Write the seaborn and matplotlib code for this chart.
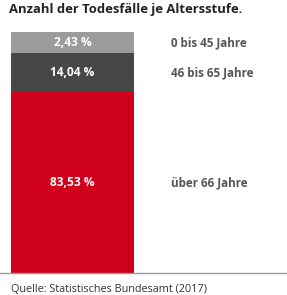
import numpy as np
import pandas as pd
import matplotlib
matplotlib.use("Agg")
import matplotlib.pyplot as plt
import seaborn as sns

# Data
groups = ["0 bis 45 Jahre", "46 bis 65 Jahre", "über 66 Jahre"]
shares = [2.43, 14.04, 83.53]                 # printed values (%)
segment_heights = [8.7, 16.2, 75.1]           # segment heights as drawn in the picture
colors = ["#9b9b9b", "#474747", "#d0021b"]
title = "Anzahl der Todesfälle je Altersstufe."
source = "Quelle: Statistisches Bundesamt (2017)"

sns.set_theme(style="white")
plt.rcParams["font.family"] = ["Open Sans", "DejaVu Sans"]

W, H = 287, 295
fig = plt.figure(figsize=(W / 100, H / 100), dpi=100)
ax = fig.add_axes([0, (H - 273) / H, 1, 241 / H])

order = [2, 1, 0]
cum = np.cumsum([segment_heights[i] for i in order])
tops = {i: c for i, c in zip(order, cum)}
bottoms = {i: c - segment_heights[i] for i, c in zip(order, cum)}

for i in order:
    df = pd.DataFrame({"k": ["x"], "v": [segment_heights[i]]})
    sns.barplot(data=df, x="k", y="v", color=colors[i], saturation=1,
                width=1.0, ax=ax, linewidth=0, edgecolor=colors[i],
                bottom=bottoms[i], errorbar=None, antialiased=False)

ax.set_xlim(-0.5 - 11 / 123, -0.5 - 11 / 123 + W / 123)
ax.set_ylim(0, 100)
ax.set_xlabel("")
ax.set_ylabel("")
ax.set_xticks([])
ax.set_yticks([])
for s in ["top", "left", "right"]:
    ax.spines[s].set_visible(False)
ax.spines["bottom"].set_color("#999999")
ax.spines["bottom"].set_linewidth(1.0)

for i in range(3):
    mid = (tops[i] + bottoms[i]) / 2
    ax.text(0, mid, f"{shares[i]:.2f} %".replace(".", ","), ha="center", va="center",
            color="white", fontsize=8.6, fontweight="bold")
    ax.text(171 / W, mid, groups[i], transform=ax.get_yaxis_transform(),
            ha="left", va="center", color="#555555", fontsize=8.4, fontweight="bold")

fig.text(9 / W, 1 - 10 / H, title, ha="left", va="center", color="#222222",
         fontsize=9.4, fontweight="bold")
fig.text(11 / W, 1 - 290 / H, source, ha="left", va="center", color="#333333",
         fontsize=7.8)

fig.savefig("out.png", dpi=100)
